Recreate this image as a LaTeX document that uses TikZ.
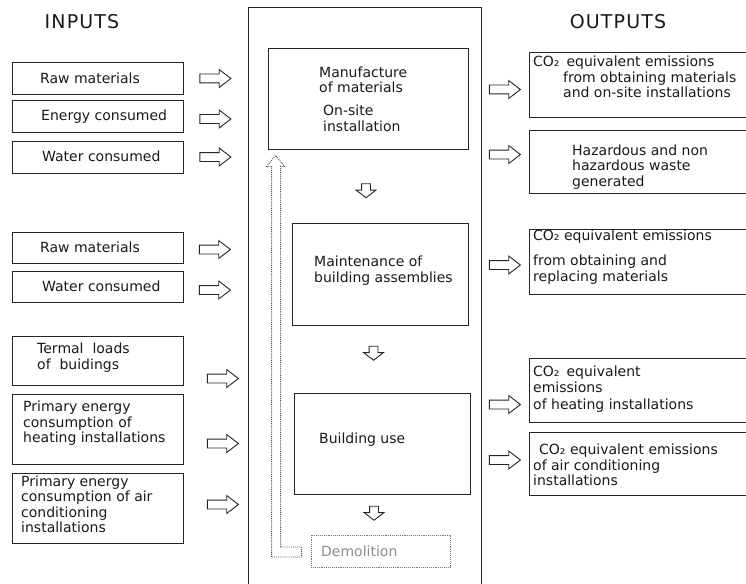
\documentclass[tikz,border=0pt]{standalone}
\usepackage{fontspec}
\setmainfont{DejaVu Sans}
\newfontfamily\titlefont[LetterSpace=6]{DejaVu Sans}
\usetikzlibrary{shapes.arrows,fit,calc,positioning}

\tikzset{
    box/.style={draw=black!85, line width=0.9pt, inner sep=0pt},
    demobox/.style={draw=black!55, densely dotted, line width=0.9pt, inner sep=0pt},
    txt/.style={anchor=west, inner sep=0pt, align=left, text=black!90,
        font=\fontsize{14}{15.5}\selectfont},
    title/.style={inner sep=0pt, text=black!90, font=\titlefont\fontsize{19}{20}\selectfont},
    rarrow/.style={single arrow, draw=black!85, line width=0.9pt,
        minimum height=31pt, inner sep=4pt,
        single arrow head extend=4.5pt, single arrow tip angle=75},
    darrow/.style={rarrow, shape border rotate=270, minimum height=14pt,
        single arrow head extend=5.5pt, single arrow tip angle=105},
    backloop/.style={draw=black!70, densely dotted, line width=0.9pt},
}

\begin{document}
\begin{tikzpicture}[x=1pt, y=-1pt]
    \clip (0,0) rectangle (746,583);

    % Titles
    \node[title] (inputs) at (82,22) {INPUTS};
    \node[title] (outputs) at (618,22) {OUTPUTS};

    % Life cycle stages
    \node[box, fit={(248,7) (481,600)}] (stages) {};

    \node[box, fit={(268,48) (468,149)}] (manuf) {};
    \node[txt] (manuft) at (319,80) {Manufacture\\of materials};
    \node[txt] (sitet) at (323,118.5) {On-site\\installation};
    \node[darrow] (down1) at (366,189) {};

    \node[box, fit={(292,223) (468,325)}] (maint) {};
    \node[txt] (maintt) at (314,270.5) {Maintenance of\\building assemblies};
    \node[darrow] (down2) at (373.5,351.5) {};

    \node[box, fit={(294,393) (470,494)}] (use) {};
    \node[txt] (uset) at (319,440) {Building use};
    \node[darrow] (down3) at (374,511.5) {};

    \node[demobox, fit={(311,535) (450,567)}] (demo) {};
    \node[txt, text=black!45] (demot) at (321,551) {Demolition};

    % back to manufacture
    \draw[backloop] ($(demo.west)+(-9,-4)$) -| ($(manuf.south west)+(13,17)$)
        -- ++(4,0) -- ($(manuf.south west)+(8,6)$) -- ++(-9,11) -- ++(5,0)
        |- ($(demo.west)+(-9,6)$) -- cycle;

    % Inputs
    \node[box, fit={(12,62) (183,94)}] (rawA) {};
    \node[txt] (rawAt) at (40,78) {Raw materials};
    \node[rarrow] (inA) at (212.5,78.5) {};

    \node[box, fit={(12,100) (183,132)}] (energy) {};
    \node[txt] (energyt) at (41,117) {Energy consumed};
    \node[rarrow] (inB) at (212.5,119) {};

    \node[box, fit={(12,141) (183,173)}] (waterA) {};
    \node[txt] (waterAt) at (42,156) {Water consumed};
    \node[rarrow] (inC) at (212.5,157) {};

    \node[box, fit={(12,232) (183,263)}] (rawB) {};
    \node[txt] (rawBt) at (40,247) {Raw materials};
    \node[rarrow] (inD) at (212,249.5) {};

    \node[box, fit={(12,271) (183,302)}] (waterB) {};
    \node[txt] (waterBt) at (42,286) {Water consumed};
    \node[rarrow] (inE) at (212,290) {};

    \node[box, fit={(12,336) (183,385)}] (loads) {};
    \node[txt] (loadst) at (37,357.5) {Termal~ loads\\of~ buidings};
    \node[rarrow] (inF) at (220,378.5) {};

    \node[box, fit={(12,394) (183,464)}] (heat) {};
    \node[txt] (heatt) at (23,423.5) {Primary energy\\consumption of\\heating installations};
    \node[rarrow] (inG) at (220,443.5) {};

    \node[box, fit={(12,473) (183,543)}] (air) {};
    \node[txt] (airt) at (21,504.5) {Primary energy\\consumption of air\\conditioning\\installations};
    \node[rarrow] (inH) at (220,504.5) {};

    % Outputs
    \node[rarrow] (outA) at (502,89.5) {};
    \node[box, fit={(529,52) (760,117)}] (co2A) {};
    \node[txt] (co2At) at (533,77) {CO₂\enspace equivalent emissions\\\hspace*{30pt}from obtaining materials\\\hspace*{30pt}and on-site installations};

    \node[rarrow] (outB) at (502,154.5) {};
    \node[box, fit={(529,130) (760,193)}] (waste) {};
    \node[txt] (wastet) at (572,167) {Hazardous and non\\hazardous waste\\generated};

    \node[rarrow] (outC) at (502,265) {};
    \node[box, fit={(529,229) (760,294)}] (co2B) {};
    \node[txt] (co2Bt) at (533,237) {CO₂ equivalent emissions};
    \node[txt] (co2Bu) at (533,269.5) {from obtaining and\\replacing materials};

    \node[rarrow] (outD) at (502,404.5) {};
    \node[box, fit={(529,358) (760,422)}] (co2C) {};
    \node[txt, font=\fontsize{14}{16.5}\selectfont] (co2Ct) at (533,389) {CO₂\enspace equivalent\\emissions\\of heating installations};

    \node[rarrow] (outE) at (502,460) {};
    \node[box, fit={(529,432) (760,495)}] (co2D) {};
    \node[txt] (co2Dt) at (533,465) {\hspace*{6pt}CO₂ equivalent emissions\\of air conditioning\\installations};
\end{tikzpicture}
\end{document}
